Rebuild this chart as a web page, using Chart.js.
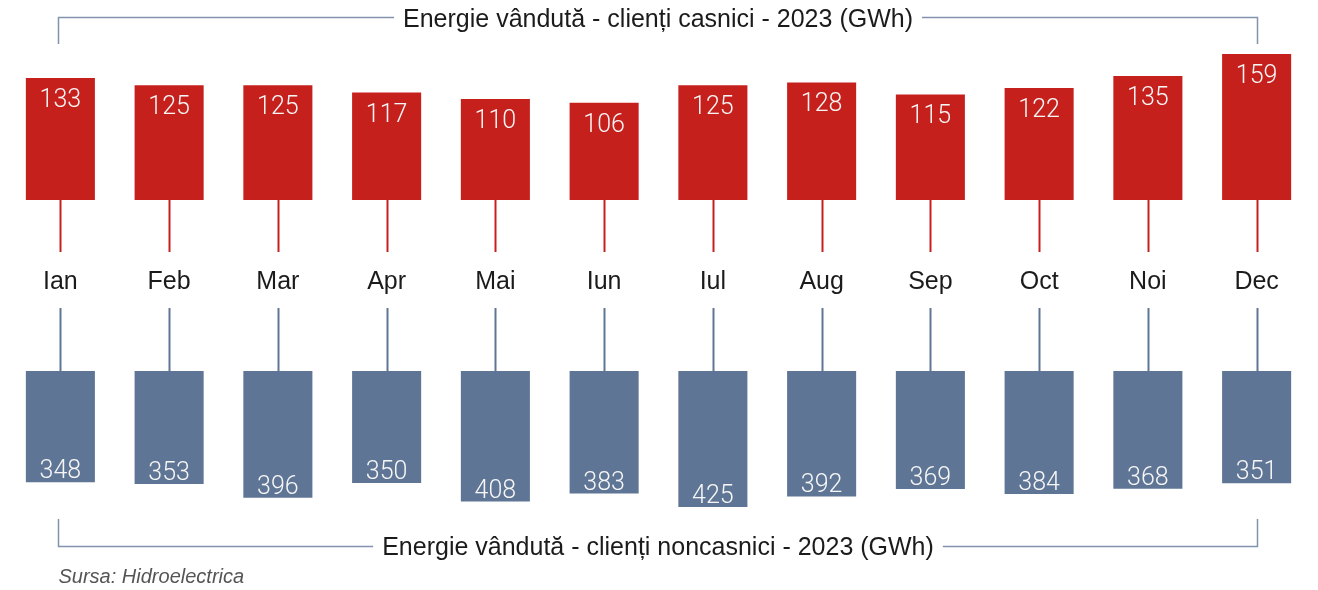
<!DOCTYPE html>
<html>
<head>
<meta charset="utf-8">
<script src="https://cdn.jsdelivr.net/npm/chart.js@4.4.1/dist/chart.umd.min.js"></script>
<style>
  html, body { margin: 0; padding: 0; background: #fff; }
  #wrap { width: 1318px; height: 590px; position: relative; }
</style>
</head>
<body>
<div id="wrap"><canvas id="chart"></canvas></div>
<script>
// --- DATA ---
const months = ['Ian', 'Feb', 'Mar', 'Apr', 'Mai', 'Iun', 'Iul', 'Aug', 'Sep', 'Oct', 'Noi', 'Dec'];
const casnici = [133, 125, 125, 117, 110, 106, 125, 128, 115, 122, 135, 159];
const noncasnici = [348, 353, 396, 350, 408, 383, 425, 392, 369, 384, 368, 351];
const titleTop = 'Energie vândută - clienți casnici - 2023 (GWh)';
const titleBottom = 'Energie vândută - clienți noncasnici - 2023 (GWh)';
const sourceText = 'Sursa: Hidroelectrica';

// --- STYLE ---
const RED = '#c6201d';
const BLUE = '#5f7595';
const BRACKET = '#8193ad';
const FONT = '"Liberation Sans", Arial, sans-serif';
const LIGHT_FONT = 'Roboto, "Liberation Sans", sans-serif';

// axis layout: where value 0 sits and how many px per GWh
const H = 590;
const RED_BASE = 200, RED_PX = 0.918;
const BLUE_BASE = 371, BLUE_PX = 0.32;

// red axis grows upward from RED_BASE
const redMin = -(H - RED_BASE) / RED_PX;
const redMax = redMin + H / RED_PX;
// blue axis (reversed) grows downward from BLUE_BASE
const blueMin = -BLUE_BASE / BLUE_PX;
const blueMax = blueMin + H / BLUE_PX;

const decorPlugin = {
    id: 'decor',
    afterDatasetsDraw(chart) {
        const ctx = chart.ctx;
        const redBars = chart.getDatasetMeta(0).data;
        const blueBars = chart.getDatasetMeta(1).data;
        ctx.save();

        // stems
        ctx.lineWidth = 2;
        redBars.forEach(b => {
            ctx.strokeStyle = RED;
            ctx.beginPath();
            ctx.moveTo(Math.round(b.x) + 0.5, b.base);
            ctx.lineTo(Math.round(b.x) + 0.5, b.base + 52);
            ctx.stroke();
        });
        blueBars.forEach(b => {
            ctx.strokeStyle = BLUE;
            ctx.beginPath();
            ctx.moveTo(Math.round(b.x) + 0.5, b.base - 63);
            ctx.lineTo(Math.round(b.x) + 0.5, b.base);
            ctx.stroke();
        });

        // value labels
        ctx.fillStyle = '#f6f6f6';
        ctx.font = '300 25px ' + LIGHT_FONT;
        ctx.textAlign = 'center';
        ctx.textBaseline = 'alphabetic';
        redBars.forEach((b, i) => ctx.fillText(casnici[i], b.x, b.y + 29));
        blueBars.forEach((b, i) => ctx.fillText(noncasnici[i], b.x, b.y - 4));

        // month labels
        ctx.fillStyle = '#1b1b1b';
        ctx.font = '25px ' + FONT;
        redBars.forEach((b, i) => ctx.fillText(months[i], b.x, 289));

        // brackets with titles
        const x1 = Math.round(redBars[0].x) - 1.5;
        const x2 = Math.round(redBars[redBars.length - 1].x) + 0.5;
        const cx = (x1 + x2) / 2;
        function bracket(text, lineY, tickY, baseY) {
            ctx.font = '25px ' + FONT;
            ctx.fillStyle = '#1b1b1b';
            ctx.textAlign = 'center';
            ctx.fillText(text, cx, baseY);
            const w = ctx.measureText(text).width;
            ctx.strokeStyle = BRACKET;
            ctx.lineWidth = 1.5;
            ctx.beginPath();
            ctx.moveTo(x1, tickY);
            ctx.lineTo(x1, lineY);
            ctx.lineTo(cx - w / 2 - 9, lineY);
            ctx.moveTo(cx + w / 2 + 9, lineY);
            ctx.lineTo(x2, lineY);
            ctx.lineTo(x2, tickY);
            ctx.stroke();
        }
        bracket(titleTop, 17.5, 44, 27);
        bracket(titleBottom, 546.5, 519, 555);

        // source
        ctx.font = 'italic 20px ' + FONT;
        ctx.fillStyle = '#555';
        ctx.textAlign = 'left';
        ctx.fillText(sourceText, x1, 583);

        ctx.restore();
    }
};

new Chart(document.getElementById('chart').getContext('2d'), {
    type: 'bar',
    data: {
        labels: months,
        datasets: [
            {
                label: 'casnici',
                data: casnici,
                backgroundColor: RED,
                yAxisID: 'yRed',
                grouped: false,
                categoryPercentage: 1,
                barPercentage: 0.635
            },
            {
                label: 'noncasnici',
                data: noncasnici,
                backgroundColor: BLUE,
                yAxisID: 'yBlue',
                grouped: false,
                categoryPercentage: 1,
                barPercentage: 0.635
            }
        ]
    },
    options: {
        responsive: true,
        maintainAspectRatio: false,
        animation: false,
        layout: { padding: { left: 6, right: 7, top: 0, bottom: 0 } },
        plugins: { legend: { display: false }, tooltip: { enabled: false } },
        scales: {
            x: { display: false },
            yRed: { display: false, min: redMin, max: redMax },
            yBlue: { display: false, reverse: true, min: blueMin, max: blueMax }
        }
    },
    plugins: [decorPlugin]
});
</script>
</body>
</html>
